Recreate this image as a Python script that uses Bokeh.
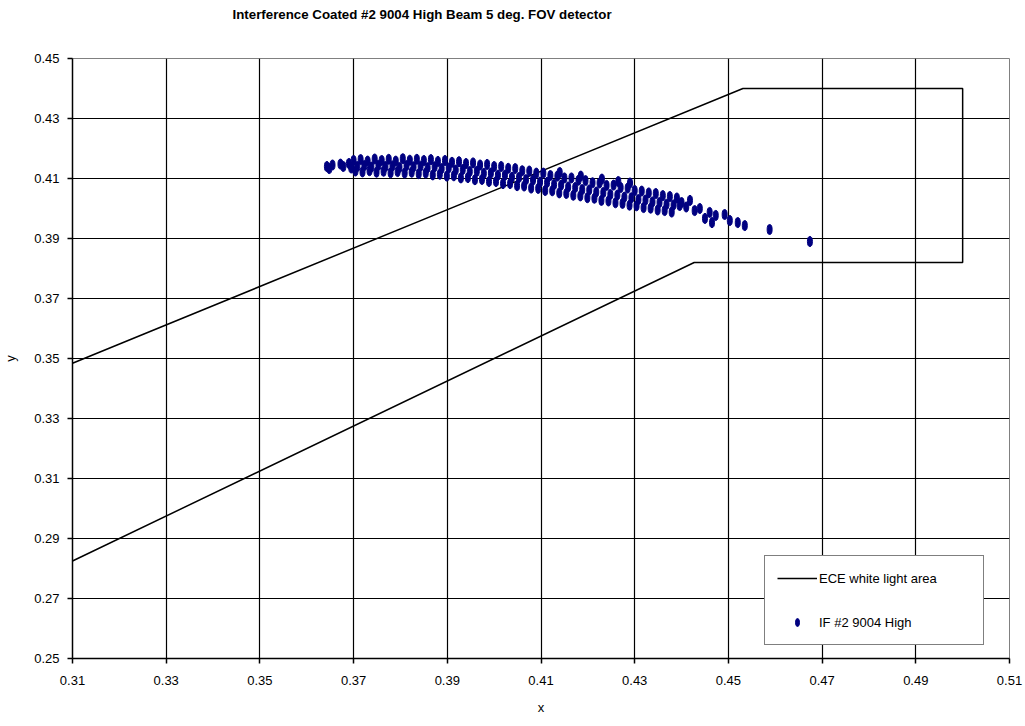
import numpy as np
from bokeh.plotting import figure
from bokeh.models import (FixedTicker, NumeralTickFormatter, Legend, LegendItem,
                          Range1d, Title)
from bokeh.embed import file_html
from bokeh.resources import INLINE

# ---------------- data ----------------
title_text = "Interference Coated #2 9004 High Beam 5 deg. FOV detector"
x_ticks = [0.31, 0.33, 0.35, 0.37, 0.39, 0.41, 0.43, 0.45, 0.47, 0.49, 0.51]
y_ticks = [0.25, 0.27, 0.29, 0.31, 0.33, 0.35, 0.37, 0.39, 0.41, 0.43, 0.45]

# ECE white light area boundary
ece_x = [0.31, 0.4531, 0.50, 0.50, 0.4427, 0.31]
ece_y = [0.3484, 0.44, 0.44, 0.382, 0.382, 0.2825]

left_x = [0.3643, 0.3648, 0.3655, 0.3672, 0.3678, 0.3690, 0.3695]
left_y = [0.4140, 0.4133, 0.4145, 0.4148, 0.4140, 0.4150, 0.4135]

top_x = [0.3700, 0.3715, 0.3730, 0.3745, 0.3760, 0.3775, 0.3790, 0.3805, 0.3820, 0.3835,
         0.3850, 0.3865, 0.3880, 0.3895, 0.3910, 0.3925, 0.3940, 0.3955, 0.3970, 0.3985,
         0.4000, 0.4015, 0.4030, 0.4045, 0.4060, 0.4075, 0.4090, 0.4105, 0.4120, 0.4135,
         0.4150, 0.4165, 0.4180, 0.4195, 0.4210, 0.4225, 0.4240, 0.4255, 0.4270, 0.4285,
         0.4300, 0.4315, 0.4330, 0.4345, 0.4360, 0.4375]
top_y = [0.4160, 0.4163, 0.4158, 0.4165, 0.4160, 0.4164, 0.4158, 0.4166, 0.4161, 0.4164,
         0.4160, 0.4163, 0.4157, 0.4160, 0.4154, 0.4156, 0.4150, 0.4152, 0.4145, 0.4147,
         0.4140, 0.4140, 0.4134, 0.4133, 0.4126, 0.4125, 0.4118, 0.4118, 0.4110, 0.4108,
         0.4102, 0.4102, 0.4094, 0.4093, 0.4086, 0.4085, 0.4077, 0.4078, 0.4070, 0.4068,
         0.4060, 0.4058, 0.4052, 0.4050, 0.4043, 0.4040]

mid_x = [0.3708, 0.3723, 0.3738, 0.3753, 0.3768, 0.3783, 0.3798, 0.3813, 0.3828, 0.3843,
         0.3858, 0.3873, 0.3888, 0.3903, 0.3918, 0.3933, 0.3948, 0.3963, 0.3978, 0.3993,
         0.4008, 0.4023, 0.4038, 0.4053, 0.4068, 0.4083, 0.4098, 0.4113, 0.4128, 0.4143,
         0.4158, 0.4173, 0.4188, 0.4203, 0.4218, 0.4233, 0.4248, 0.4263, 0.4278, 0.4293,
         0.4308, 0.4323, 0.4338, 0.4353, 0.4368, 0.4383]
mid_y = [0.4140, 0.4143, 0.4138, 0.4144, 0.4140, 0.4142, 0.4137, 0.4143, 0.4139, 0.4141,
         0.4136, 0.4139, 0.4133, 0.4135, 0.4128, 0.4130, 0.4123, 0.4124, 0.4117, 0.4118,
         0.4111, 0.4111, 0.4104, 0.4103, 0.4096, 0.4095, 0.4088, 0.4087, 0.4080, 0.4078,
         0.4072, 0.4070, 0.4063, 0.4062, 0.4055, 0.4053, 0.4047, 0.4045, 0.4038, 0.4036,
         0.4030, 0.4028, 0.4022, 0.4020, 0.4014, 0.4012]

bot_x = [0.3704, 0.3719, 0.3734, 0.3749, 0.3764, 0.3779, 0.3794, 0.3809, 0.3824, 0.3839,
         0.3854, 0.3869, 0.3884, 0.3899, 0.3914, 0.3929, 0.3944, 0.3959, 0.3974, 0.3989,
         0.4004, 0.4019, 0.4034, 0.4049, 0.4064, 0.4079, 0.4094, 0.4109, 0.4124, 0.4139,
         0.4154, 0.4169, 0.4184, 0.4199, 0.4214, 0.4229, 0.4244, 0.4259, 0.4274, 0.4289,
         0.4304, 0.4319, 0.4334, 0.4349, 0.4364, 0.4379]
bot_y = [0.4125, 0.4122, 0.4126, 0.4121, 0.4124, 0.4119, 0.4123, 0.4118, 0.4121, 0.4116,
         0.4118, 0.4112, 0.4114, 0.4108, 0.4109, 0.4102, 0.4103, 0.4096, 0.4097, 0.4090,
         0.4090, 0.4083, 0.4083, 0.4076, 0.4075, 0.4068, 0.4067, 0.4060, 0.4059, 0.4052,
         0.4050, 0.4044, 0.4042, 0.4036, 0.4034, 0.4027, 0.4025, 0.4019, 0.4017, 0.4011,
         0.4009, 0.4003, 0.4001, 0.3995, 0.3993, 0.3988]

spike_x = [0.4140, 0.4185, 0.4230, 0.4265, 0.4290, 0.4390, 0.4400, 0.4410]
spike_y = [0.4120, 0.4108, 0.4098, 0.4090, 0.4085, 0.4035, 0.4020, 0.4005]

tail_x = [0.4396, 0.4418, 0.4428, 0.4439, 0.4450, 0.4460, 0.4465, 0.4473, 0.4492,
          0.4503, 0.4520, 0.4535, 0.4588, 0.4674]
tail_y = [0.4010, 0.4027, 0.3993, 0.4000, 0.3967, 0.3987, 0.3953, 0.3977, 0.3980,
          0.3960, 0.3953, 0.3943, 0.3930, 0.3890]

pts_x = left_x + top_x + mid_x + bot_x + spike_x + tail_x
pts_y = left_y + top_y + mid_y + bot_y + spike_y + tail_y

FONT = "Liberation Sans"
NAVY = "#000080"

# ---------------- figure ----------------
p = figure(width=1025, height=726, output_backend="svg", toolbar_location=None,
           x_range=Range1d(0.31, 0.51), y_range=Range1d(0.25, 0.45),
           min_border_left=72, min_border_right=16, min_border_top=58,
           min_border_bottom=68)
p.background_fill_color = "white"
p.border_fill_color = "white"
p.outline_line_color = "#808080"
p.outline_line_width = 1

# real title on the outside, spacer title next to the frame
p.title.text = title_text
p.title.align = "left"
p.title.offset = 160
p.title.text_font = FONT
p.title.text_font_size = "13.3px"
p.title.text_font_style = "bold"
p.title.text_color = "black"
p.title.standoff = 9
p.add_layout(Title(text=" ", text_font=FONT, text_font_size="13.3px",
                   standoff=15), "above")

for ax in (p.xaxis[0], p.yaxis[0]):
    ax.axis_line_color = "black"
    ax.axis_line_width = 1.5
    ax.major_tick_line_color = "black"
    ax.major_tick_line_width = 1.5
    ax.major_tick_out = 5
    ax.major_tick_in = 0
    ax.minor_tick_line_color = None
    ax.major_label_text_font = FONT
    ax.major_label_text_font_size = "13px"
    ax.major_label_text_color = "black"
    ax.axis_label_text_font = FONT
    ax.axis_label_text_font_size = "13px"
    ax.axis_label_text_font_style = "normal"
    ax.axis_label_text_color = "black"
    ax.formatter = NumeralTickFormatter(format="0.00")

p.xaxis[0].ticker = FixedTicker(ticks=x_ticks)
p.yaxis[0].ticker = FixedTicker(ticks=y_ticks)
p.xaxis[0].axis_label = "x"
p.yaxis[0].axis_label = "y"
p.xaxis[0].major_label_standoff = 12
p.yaxis[0].major_label_standoff = 8
p.xaxis[0].axis_label_standoff = 12
p.yaxis[0].axis_label_standoff = 13

p.xgrid[0].ticker = FixedTicker(ticks=x_ticks)
p.ygrid[0].ticker = FixedTicker(ticks=y_ticks[:-1])
for g in (p.xgrid[0], p.ygrid[0]):
    g.grid_line_color = "black"
    g.grid_line_width = 1.2

r_ece = p.line(ece_x, ece_y, line_color="black", line_width=1.5)
r_pts = p.ellipse(pts_x, pts_y, width=5, height=10, width_units="screen",
                  height_units="screen", fill_color=NAVY, line_color=NAVY,
                  line_width=1)

legend = Legend(items=[LegendItem(label="ECE white light area", renderers=[r_ece]),
                       LegendItem(label="IF #2 9004 High", renderers=[r_pts])],
                location=(692, 13), margin=0, padding=12, spacing=24,
                glyph_width=40, glyph_height=10, label_height=20, label_width=152,
                label_standoff=2, label_text_font=FONT, label_text_font_size="13px",
                label_text_color="black", border_line_color="black",
                border_line_width=1.5, background_fill_color="white",
                background_fill_alpha=1.0)
p.add_layout(legend, "center")

open("out.html", "w").write(file_html(p, INLINE))
